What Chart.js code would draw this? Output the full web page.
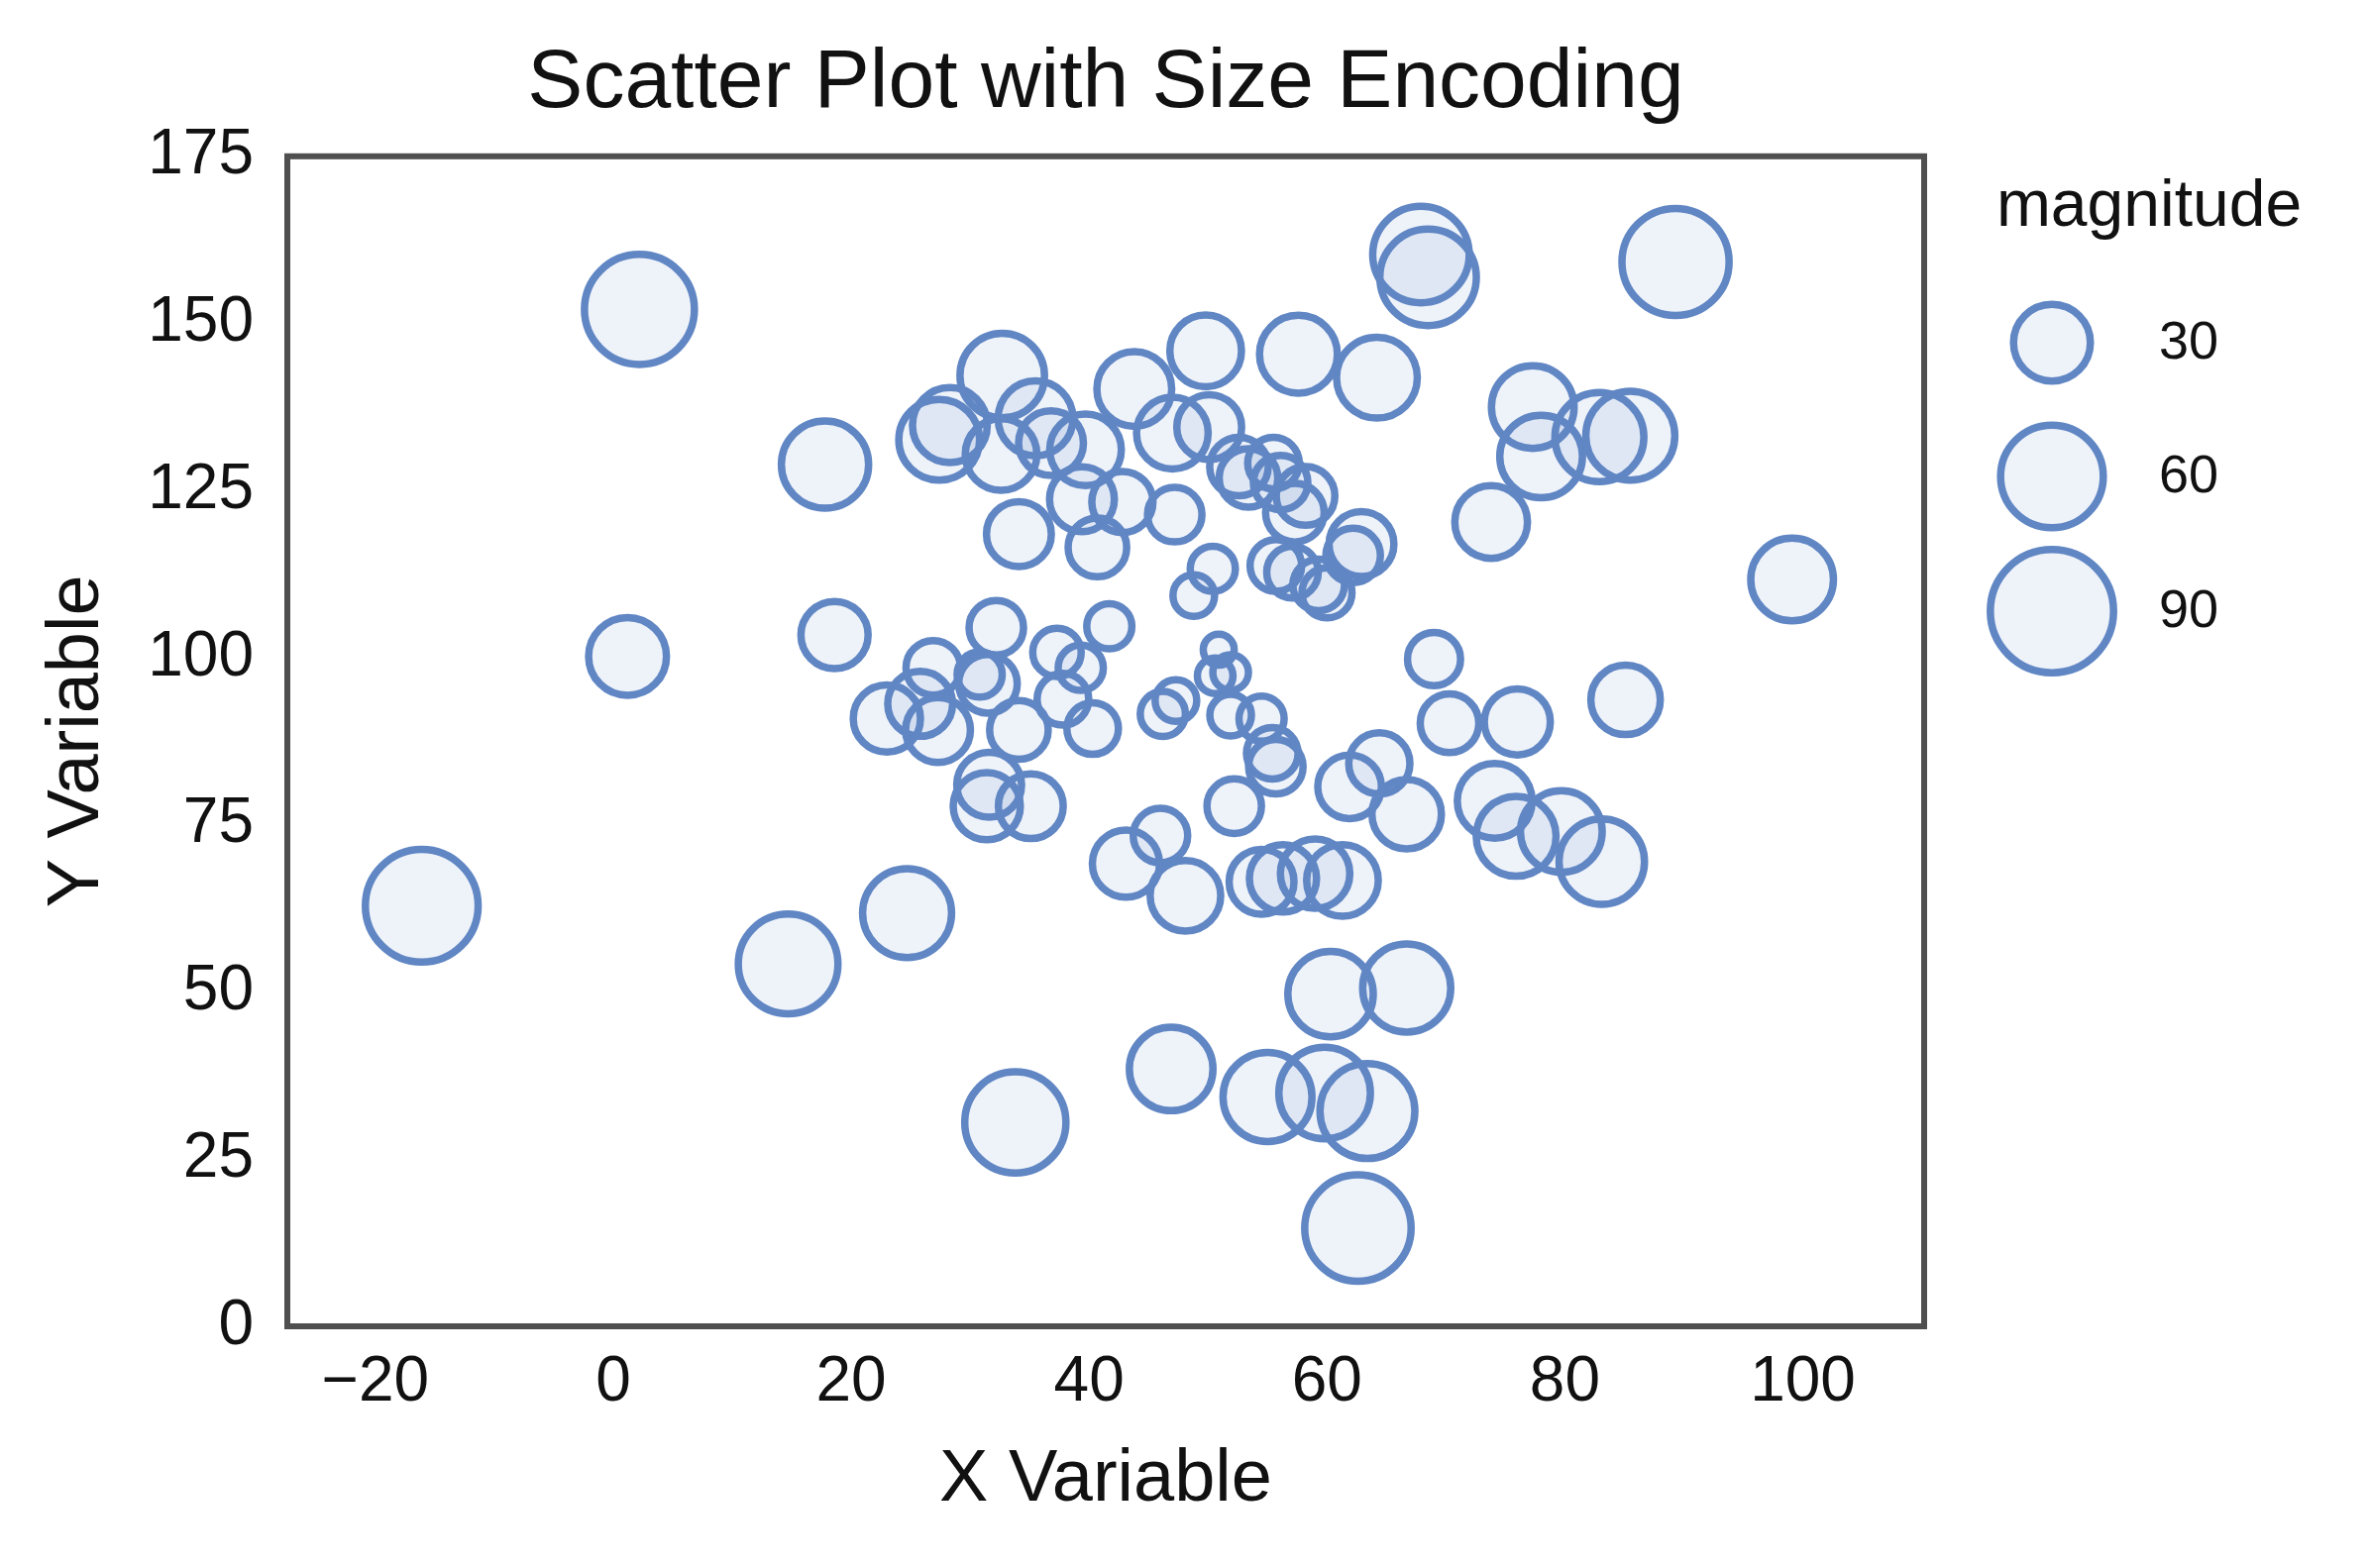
<!DOCTYPE html>
<html>
<head>
<meta charset="utf-8">
<title>Scatter Plot with Size Encoding</title>
<script src="https://cdn.jsdelivr.net/npm/chart.js@4.4.1/dist/chart.umd.min.js"></script>
<style>
  html, body { margin: 0; padding: 0; background: #fff; }
  canvas { display: block; }
</style>
</head>
<body>
<canvas id="sizeChart" width="2392" height="1583" style="width:2392px;height:1583px"></canvas>
<script>
/*
-------------------------------------
/// data
-------------------------------------
*/
const xValues = [
  -16.1, 2.2, 1.2, 14.7, 24.7, 17.8, 18.6, 33.8, 46.9, 55.0,
  59.8, 63.4, 62.6, 60.3, 66.7, 89.3, 67.9, 68.5, 99.1, 77.3,
  78.0, 82.9, 85.5, 73.8, 64.2, 57.6, 49.8, 43.8, 27.4, 28.3,
  32.7, 35.5, 32.6, 36.8, 39.7, 47.0, 39.4, 42.8, 34.1, 40.7,
  47.2, 50.1, 52.6, 53.4, 55.5, 56.1, 58.2, 57.3, 50.4, 48.8,
  55.7, 57.1, 59.3, 62.9, 62.2, 60.0, 32.2, 41.7, 37.3, 39.3,
  26.9, 30.8, 31.5, 25.8, 23.0, 27.3, 34.1, 37.8, 40.3, 46.2,
  47.3, 31.6, 31.4, 35.1, 43.1, 46.0, 48.1, 50.9, 50.6, 51.9,
  51.9, 54.5, 55.4, 55.7, 52.2, 61.9, 64.4, 66.7, 69.0, 70.3,
  76.0, 85.1, 54.5, 56.3, 59.0, 61.3, 74.1, 75.9, 79.7, 83.1
];

const yValues = [
  62.9, 152.1, 100.2, 54.2, 61.8, 128.9, 103.4, 30.5, 38.5, 34.3,
  34.9, 32.2, 14.7, 49.7, 50.6, 159.2, 160.3, 156.9, 111.7, 137.5,
  130.1, 133.0, 133.2, 120.3, 141.9, 145.4, 145.9, 140.2, 132.6, 134.8,
  142.2, 135.8, 130.4, 132.1, 131.1, 133.6, 123.7, 123.3, 118.5, 116.5,
  121.4, 134.5, 128.6, 126.9, 129.1, 126.2, 124.2, 121.7, 113.3, 109.3,
  113.8, 112.8, 110.9, 117.0, 115.3, 109.7, 104.5, 104.7, 100.8, 98.5,
  98.5, 97.5, 96.1, 93.1, 90.9, 89.2, 89.2, 93.8, 89.4, 91.6,
  93.6, 81.0, 77.8, 77.8, 69.2, 73.4, 64.4, 101.2, 97.3, 97.8,
  91.4, 90.9, 85.7, 83.7, 77.8, 80.7, 84.2, 76.6, 99.8, 90.2,
  90.4, 93.7, 66.5, 67.0, 67.7, 66.7, 78.6, 73.3, 74.0, 69.5
];

const magnitudes = [
  74, 70, 31, 56, 43, 41, 21, 58, 37, 43,
  46, 50, 65, 39, 42, 66, 52, 52, 36, 36,
  36, 43, 43, 26, 34, 31, 25, 28, 34, 28,
  38, 28, 25, 19, 25, 25, 19, 16, 19, 14,
  11, 19, 14, 14, 9, 11, 14, 14, 5, 3,
  9, 9, 9, 19, 11, 8, 11, 5, 7, 5,
  11, 5, 14, 19, 21, 19, 14, 9, 9, 5,
  3, 19, 21, 19, 21, 11, 24, -2, 0, 0,
  3, 5, 9, 11, 11, 18, 16, 23, 10, 14,
  20, 23, 19, 21, 23, 25, 28, 33, 35, 39
];

const xTicks = [-20, 0, 20, 40, 60, 80, 100];
const yTicks = [0, 25, 50, 75, 100, 125, 150, 175];
const legendSizes = [30, 60, 90];

/*
-------------------------------------
/// styles
-------------------------------------
*/
const FONT = '"Liberation Sans", Arial, Helvetica, sans-serif';
const TEXT = '#111111';
const EDGE = 'rgb(96, 134, 196)';
const FILL = 'rgba(96, 134, 196, 0.11)';
const EDGE_WIDTH = 7.5;

// marker area grows linearly with magnitude
function sizeToRadius(m) {
  return Math.sqrt(Math.max(323 + 39.4 * m, 60));
}

const points = xValues.map((x, i) => ({ x: x, y: yValues[i], r: sizeToRadius(magnitudes[i]) }));

/*
-------------------------------------
/// plugins
-------------------------------------
*/
const framePlugin = {
  id: 'frame',
  afterDatasetsDraw(chart) {
    const a = chart.chartArea;
    const ctx = chart.ctx;
    ctx.save();
    ctx.strokeStyle = '#4f4f4f';
    ctx.lineWidth = 6;
    ctx.strokeRect(a.left, a.top, a.right - a.left, a.bottom - a.top);
    ctx.restore();
  }
};

const sizeLegendPlugin = {
  id: 'sizeLegend',
  afterDraw(chart) {
    const ctx = chart.ctx;
    const cx = 2071;
    const rows = [346, 481, 617];
    ctx.save();
    ctx.fillStyle = TEXT;
    ctx.font = '66px ' + FONT;
    ctx.textAlign = 'center';
    ctx.textBaseline = 'middle';
    ctx.fillText('magnitude', 2169, 210);

    legendSizes.forEach((m, i) => {
      ctx.beginPath();
      ctx.arc(cx, rows[i], sizeToRadius(m), 0, Math.PI * 2);
      ctx.fillStyle = FILL;
      ctx.fill();
      ctx.lineWidth = EDGE_WIDTH;
      ctx.strokeStyle = EDGE;
      ctx.stroke();

      ctx.fillStyle = TEXT;
      ctx.font = '54px ' + FONT;
      ctx.textAlign = 'left';
      ctx.fillText(String(m), 2179, rows[i] + 1);
    });
    ctx.restore();
  }
};

/*
-------------------------------------
/// chart
-------------------------------------
*/
const ctx = document.getElementById('sizeChart').getContext('2d');

const sizeChart = new Chart(ctx, {
  type: 'bubble',
  data: {
    datasets: [{
      label: 'magnitude',
      data: points,
      backgroundColor: FILL,
      borderColor: EDGE,
      borderWidth: EDGE_WIDTH,
      hoverBorderWidth: EDGE_WIDTH
    }]
  },
  options: {
    responsive: false,
    devicePixelRatio: 1,
    animation: false,
    events: [],
    layout: {
      padding: { left: 0, top: 0, right: 450, bottom: 0 }
    },
    plugins: {
      legend: { display: false },
      tooltip: { enabled: false },
      title: {
        display: true,
        text: 'Scatter Plot with Size Encoding',
        fullSize: false,
        color: TEXT,
        font: { family: FONT, size: 84, weight: 'normal', lineHeight: 1.2 },
        padding: { top: 34, bottom: 23 }
      }
    },
    scales: {
      x: {
        type: 'linear',
        min: -27.4,
        max: 110.2,
        grid: { display: false, drawTicks: false },
        border: { display: false },
        afterFit: (scale) => { scale.height = 244; },
        afterBuildTicks: (scale) => { scale.ticks = xTicks.map(v => ({ value: v })); },
        ticks: {
          color: TEXT,
          padding: 19,
          maxRotation: 0,
          font: { family: FONT, size: 64, lineHeight: 1.2 },
          callback: (v) => (v < 0 ? '\u2212' + Math.abs(v) : String(v))
        },
        title: {
          display: true,
          text: 'X Variable',
          color: TEXT,
          font: { family: FONT, size: 74, lineHeight: 1.2 },
          padding: { top: 44, bottom: 44 }
        }
      },
      y: {
        type: 'linear',
        min: 0,
        max: 175,
        grid: { display: false, drawTicks: false },
        border: { display: false },
        afterFit: (scale) => { scale.width = 290; },
        afterBuildTicks: (scale) => { scale.ticks = yTicks.map(v => ({ value: v })); },
        ticks: {
          color: TEXT,
          padding: 34,
          font: { family: FONT, size: 64, lineHeight: 1.2 }
        },
        title: {
          display: true,
          text: 'Y Variable',
          color: TEXT,
          font: { family: FONT, size: 74, lineHeight: 1.2 },
          padding: { top: 34, bottom: 34 }
        }
      }
    }
  },
  plugins: [framePlugin, sizeLegendPlugin]
});
</script>
</body>
</html>
